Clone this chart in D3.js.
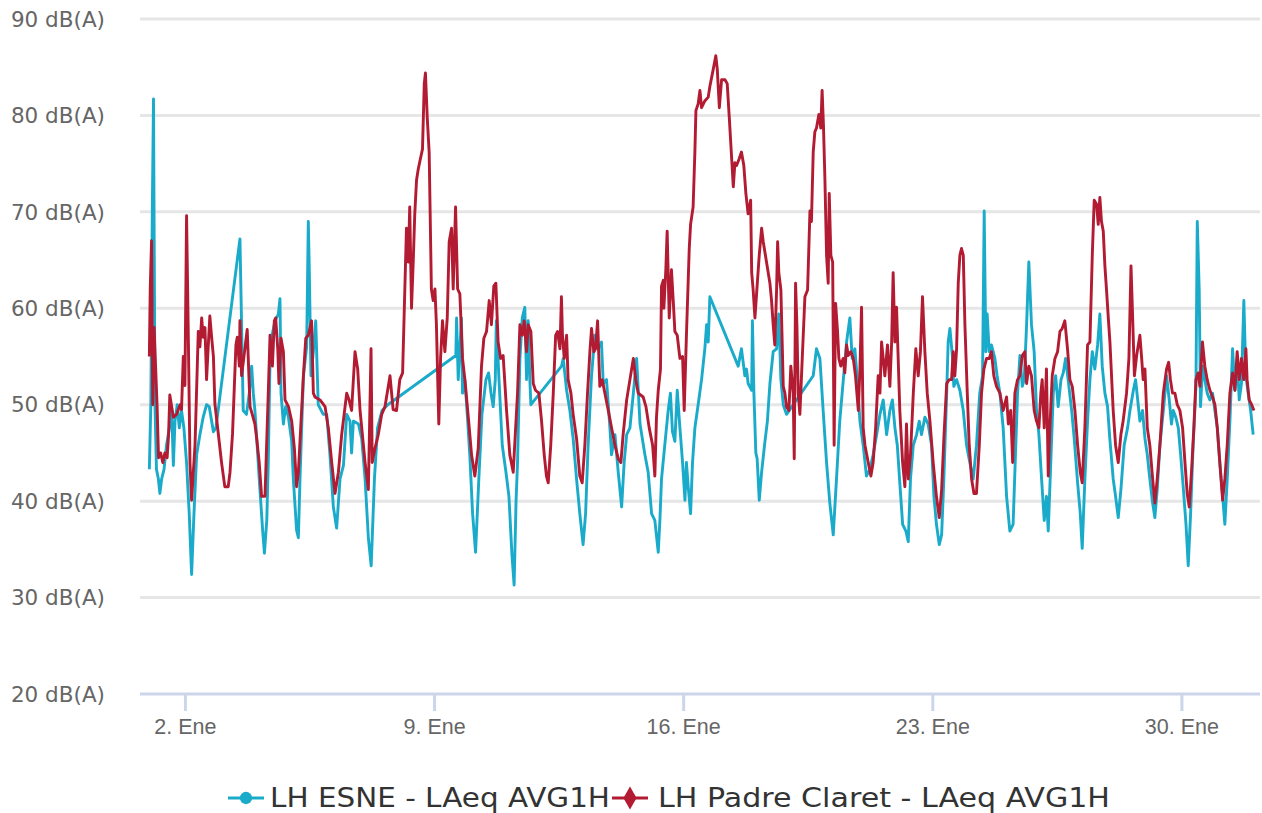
<!DOCTYPE html>
<html>
<head>
<meta charset="utf-8">
<style>
  body { margin: 0; background: #fff; }
  svg { display: block; font-family: "DejaVu Sans", Verdana, sans-serif; }
  .grid line { stroke: #e6e6e6; stroke-width: 3px; }
  .ylab { fill: #666; font-size: 21.5px; }
  .xlab { fill: #666; font-size: 21.5px; }
  .legend text { fill: #333; font-size: 26px; }
</style>
</head>
<body>
<svg width="1262" height="813"></svg>
<script src="https://cdn.jsdelivr.net/npm/d3@7"></script>
<script>

// hours since 1 Jan 00:00, level in dB(A)
var esne = [
  [0,43.3],[1,50],[2,70],[2.8,81.7],[3.8,50],[4.8,43.3],[6.1,42.3],[7.1,40.8],[8.3,42.3],[9.9,43.3],[11.6,45.8],[13.5,47.6],[15,49.8],[16.2,43.7],[17.3,48.3],[18.8,50],[20.2,47.6],[21.7,49.4],[23.3,47.6],[25.1,44],[26.9,38.7],[28.5,32.4],[30.1,38.7],[31.9,44.8],[34.1,46.9],[36.3,48.7],[38.6,50],[40.4,49.8],[42,48.3],[43.2,47.2],[44.9,47.6],
  [61.1,67.2],[62.2,58.3],[63.3,49.4],[65.5,49],[67.4,51.2],[69,54],[70.1,51.2],[71.2,49.4],[72.7,45.8],[74.1,42.3],[76.4,37],[77.6,34.6],[79.2,38],[80.2,44],[81.4,54.8],[82.5,57],[84.7,58.7],[87,59.4],[88.1,61],[88.8,51.2],[90.4,48],[91.9,49.8],[93.8,48.7],[96,46.2],[97.1,42.3],[99.3,37],[100.5,36.2],[101.6,42.3],[103.9,53],[106.1,56],[107.2,69],[107.9,63.7],[109,53],[110.6,55.5],[112.2,58.7],[113.9,50],[117.3,49],[119.6,49],[121.8,44.8],[124.1,39.4],[126.3,37.2],[128.6,42.3],[130.9,43.7],[133.1,49],[135.3,48.3],[136.4,45],[137.6,48.3],[141,48],[143.2,46.5],[145.5,42.3],[147.7,36.2],[149.6,33.3],[151.8,42.3],[153.9,47.6],[156.9,49.4],[160.8,50],
  [206.7,55.1],[207.2,59],[208.3,52.6],[209.4,55.8],[210.5,59],[211.2,51.2],[212.8,52.6],[214.4,49],[216.1,44.8],[218,38.7],[220,34.7],[222.2,42.3],[224.3,49],[227,52.6],[228.8,53.3],[230.4,51.2],[231.9,49.8],[233.3,52.6],[234,58.7],[235.8,52.6],[238,45.8],[240.5,43],[242.5,40.5],[244.5,34.5],[246,31.3],[247.3,40],[248.3,44],[249.9,54.8],[251.5,59],[253.2,60.1],[254.4,52.6],[255.5,58.7],[256.6,52.6],[257.3,50],
  [278,54],[279.1,54.8],[281.4,51.5],[283.6,49.4],[285.8,46.5],[288.1,42.3],[290.3,38.7],[292.5,35.5],[294.2,38.7],[295.9,45.8],[298.2,53],[300.4,57.2],[302.7,55.8],[304.9,56.5],[306.1,52.2],[308.3,52.6],[310.6,47.6],[311.7,44.8],[314,46.9],[316.2,43],[318.5,39.4],[320.2,44],[321.9,46.9],[324.1,47.6],[326.4,51.2],[328.6,54.8],[330.9,48],[334.2,44.8],[336.4,43],[338.7,38.7],[340.9,38],[343.2,34.7],[344.3,38],[345.4,42.3],[347.6,45.8],[349.9,49.4],[351.4,51.2],[352.8,47.2],[354.4,46.2],[356,51.5],[357.8,47.6],[359.6,44],[361.2,40.1],[362.2,44],[363.4,41.5],[365,38.7],[366.3,44],[367.9,47.6],[370.1,50],[372.4,52.6],[374.6,55.8],[375.8,58.3],[376.9,56.5],[378,61.2],
  [397.1,54],[399.3,55.8],[401.6,53],[402.7,53.7],[403.8,52.2],[406.2,51.5],[406.7,58.7],[407.7,51.2],[409,45],[409.9,44.4],[411.3,40.1],[412.9,43],[415,46],[416.8,48.3],[418.5,52.2],[420.7,55.5],[423,55.8],[424.5,59.4],[425.9,52.6],[427.5,50],[429.7,49],
  [447.7,53],[449.9,55.8],[452.2,54.8],[454.4,49.4],[456.7,44],[458.9,39.8],[461.2,36.5],[463.4,42.3],[465.6,48.3],[468,52.6],[470.2,56.5],[472.4,59],[474,54.8],[475.8,55.8],[477.6,52.2],[479.2,48.3],[481.4,45.8],[483.6,42.6],[485.9,43.3],[488.1,44.8],[490.5,46.9],[492.7,49],[494.9,50.5],[497.2,46.9],[499.4,49.4],[501.1,50.5],[502.8,47.6],[504.4,45.8],[506.1,41.9],[508,37.6],[510.2,36.9],[511.8,35.8],[513.3,42.3],[515.2,45.8],[517.4,46.9],[519.2,48.3],[520.7,46.9],[523,48.7],[525.2,48],[527.5,45.8],[529.1,40.5],[530.8,37.6],[532.7,35.5],[534.3,36.5],[535.8,42.3],[537.7,51.2],[538.7,56.5],[539.9,57.9],[541.7,54.8],[542.5,51.9],[544.4,52.6],[546.6,51.5],[548.9,49.4],[551.1,45.8],[553.3,44],[555.6,42.3],[557.8,45.8],[560,51.2],[561.9,53],[563,70.1],[564.1,55.5],[565,59.4],[566.4,55.5],[567.9,56.2],[570.2,54.8],[571.7,53],[573.6,51.2],[575.8,47.6],[578.1,40.5],[580.3,36.9],[582.5,37.6],
  [585.5,51.2],[587.1,55.1],[588.7,51.9],[590,52.6],[591.6,58.3],[593.1,64.8],[594.9,58.3],[596.7,55.5],[598.3,49.4],[599.9,46.9],[601.7,42.3],[603.5,38],[605,40.5],[606.2,36.9],[607.9,44],[609.6,51.2],[611.2,53],[612.9,49.8],[614.8,52.6],[616.3,53.3],[617.9,54.8],[619.6,52.6],[622,49.4],[623.7,46.5],[626,41.9],[627.8,38.7],[629.1,35.1],[630.9,42.3],[632.7,48.3],[634.3,52.6],[635.9,55.5],[637.6,53.7],[639.5,56.2],[641,59.4],[642.6,54],[644.4,51.2],[646.2,49.8],[647.7,46.5],[650,42.3],[651.6,40.5],[653.4,38.3],[655.2,41.2],[657.4,45.8],[659.7,47.6],[661.3,49.4],[663.6,51.5],[665.1,52.6],
  [668,48.3],[669.8,49.4],[671.4,46.5],[673,44.8],[674.7,42.3],[676.6,39.8],[678.1,38.3],[679.7,41.2],[681.5,45.8],[683.8,49.4],[686,53],[687.8,50.5],[689.3,48],[690.5,49.4],[692.2,48.7],[693.9,47.6],[695.5,44.8],[697.2,41.5],[699.1,37.6],[700.6,33.3],[702.2,38.7],[703.9,45.8],[705.8,51.9],[706.7,69],[708,61.9],[708.9,49.8],[710.3,54],[711.8,52.6],[713.4,51.2],[715.2,50.5],[717,51.2],[718.6,49.4],[720.2,47.6],[721.9,44],[723.8,40.5],[725.3,37.6],[726.9,42.3],[728.7,48.3],[730.5,55.8],[732.1,51.5],[733.6,54.8],[735,50.5],[736.5,52.2],[738.1,60.8],[739.5,53],[741,51.2],[742.7,49.4],[744.4,46.9]
];

var claret = [
  [0,55],[0.6,62],[1.5,67],[2.3,50],[3.2,58],[4.2,54],[5.2,50],[6.2,44.5],[7.6,45],[9.1,44],[10.5,45],[12,44.5],[13,47],[13.8,51],[16.2,48.7],[18.4,49],[20.7,50],[21.7,49.5],[22.9,55],[24,52],[25.1,69.6],[26.2,58],[26.9,50],[27.4,44],[28.5,40.1],[30.8,45.8],[33,57.6],[34.1,56],[35.3,59],[36.3,57],[37.5,58],[38.6,52.6],[39.7,56],[40.8,59.2],[42,57],[43.2,55],[44.2,50.1],[46.5,47],[48.7,44],[50.9,41.5],[53.2,41.5],[54.4,43],[56.1,47],[58.4,56.2],[59.3,57],[60.7,54],[61.1,58.7],[62.2,53],[63.8,55],[66,57.8],[67.9,49.8],[69.4,49],[71.2,48],[72.4,46.5],[74.1,44],[75.7,40.5],[78,40.5],
  [80.2,51.2],[81.4,57.2],[83,54],[84.3,58.7],[85.2,59],[86.6,55.8],[87.4,52.2],[88.8,56.9],[90.4,55.5],[91.5,50.5],[93.8,49.8],[96,48.3],[97.8,45.5],[99.3,41.5],[100.5,43],[101.6,46.2],[103.9,53],[105.5,56.9],[107.2,57.2],[109.4,58.7],[110.6,51.2],[111.7,50.8],[115.1,50.5],[118.5,49.8],[120.7,47.6],[123,44],[125.2,40.8],[127.5,43],[129.7,46.9],[133.1,51.2],[134.7,50.5],[136.4,49.4],[138.7,55.5],[140.5,53.7],[142.1,49.4],[145.5,44],[147.7,41.2],[149.5,55.8],[150.3,44],[152.2,45.5],[154.4,46.9],[156.7,49],[158.9,49.8],[162.3,53],
  [164.4,49.5],[166.7,49.4],[168.9,52.6],[170.8,53.3],[172.3,62],[173.4,68.3],[174.6,64.8],[175.6,70.5],[176.8,60],[178,65],[179,69.8],[180.2,73.3],[181.3,74.4],[182.8,75.5],[184.2,76.5],[185.4,83.3],[186.2,84.4],[187.4,79.8],[188.7,76.2],[190.2,62],[191.4,60.8],[192.6,62],[193.6,58.3],[195.2,48],[196.4,54.8],[197.7,58.7],[199.3,55.5],[200.9,59],[202.2,66.9],[203.8,68.3],[204.9,62],[206.5,70.5],[207.9,62],[209.4,61.5],[211.2,54.8],[212.8,52.6],[215.1,48.7],[217.3,44.8],[219.5,42.6],[221.8,45.5],[224,54],[225.6,56.9],[227.4,57.6],[229.2,60.8],[230.7,58.3],[232.3,62.3],[233.7,62.6],[235.2,56.5],[236.9,54.8],[238.6,55.1],[240.9,49.4],[243.1,44.8],[245.4,43],
  [248.3,51.2],[249.9,58.3],[251.5,57.2],[252.8,58.7],[254.4,55.5],[255.5,58.3],[257.3,57.6],[258.9,52.2],[260.4,51.5],[262.7,51.2],[264.5,48.3],[266.3,44.8],[267.8,42.6],[269,41.9],[270.7,45.8],[272.4,51.2],[274,57.2],[275.3,57.6],[276.9,55.8],[277.9,61.2],[278.6,57.2],[279.8,54.8],[281.4,57.2],[282.4,52.6],[284.3,51.2],[285.8,49],[288.1,46.5],[290.3,42.6],[291.9,41.9],[293.7,45.8],[295.5,51.2],[297.1,55.5],[298.2,57.9],[299.8,55.5],[300.9,55.8],[302.3,58.7],[303.8,51.9],[305.4,52.6],[307.2,51.2],[309.5,49.4],[311.7,47.6],[314,45.8],[316.2,44.4],[318,44],[319.5,46.9],[321.9,50.5],[324.1,52.6],[326.4,54.8],[328,52.6],[329.7,51.2],
  [333,50.8],[334.9,49.8],[337.1,47.6],[339.4,45.8],[340.9,42.6],[342,48.7],[343.2,51.5],[344.7,53.7],[345.4,62.3],[346.6,62.9],[347,60],[348.3,64],[349.2,68],[350.6,59],[352.1,64],[353.3,60.8],[354.4,57.6],[356,57.2],[357.8,54.8],[359.6,55],[360.7,49.4],[362.2,57.2],[364.1,66.2],[365,68.7],[366.7,70.5],[367.9,76.2],[368.6,80.5],[370.1,81.2],[371.3,82.6],[372.4,80.8],[374.6,81.5],[376.9,81.9],[378,83],[380.3,84.8],[382,86.2],[383,84.8],[384.4,80.8],[385.9,83.7],[388.2,83.7],[389.7,83.3],[391.1,79.8],[392.6,75.8],[393.8,72.6],[394.9,75.1],[396,74.8],[397.8,75.5],[399.3,76.2],[400.9,74.8],[402.3,71.9],[403.8,69.8],[405.5,71.2],[406.2,63.7],[407.2,61.9],[408.4,59],[410,62.6],[411.3,65.5],[412.9,68.3],[414,66.9],
  [418.5,62.6],[419.6,60.8],[420.7,58.3],[421.8,56.2],[423,61.9],[423.7,66.9],[424.5,63.7],[425.9,61.9],[427.5,51.9],[428.6,51.2],[429.7,49.8],[431.3,49.4],[432.6,54],[434.2,51.2],[434.9,44.4],[435.8,62.6],[436.7,58.3],[437.6,51.2],[438.7,49],[440.3,54.8],[442.1,61.2],[443.9,61.9],[445.5,70.1],[446.5,69],[447.7,76.2],[448.8,78.3],[449.9,78.7],[451.5,80.1],[452.8,78.7],[453.7,82.6],[454.6,79],[455.6,73.3],[456.7,65.5],[457.8,62.6],[458.5,71.9],[459.6,65.5],[460.8,64.8],[461.8,45.8],[462.8,60.5],[464.1,57.6],[465,54.8],[466.3,54],[467.9,54.8],[469,53.3],[470.2,56.2],[471.3,55.1],[473.1,55.5],[474.7,54.8],[476.2,53],[478.1,49.4],[479.2,53.7],[480.3,60.1],[481.4,47.6],[482.6,45.8],[484.8,44],[486.6,42.6],[488.1,44],[489.8,47.6],[491.5,53],[492.7,51.2],[493.8,56.5],[494.9,54.8],[496,53],[497.8,56.2],
  [499.4,51.9],[500.6,56.5],[501.6,63.7],[502.8,56.5],[503.9,60.1],[505,54.8],[506.1,49.4],[508,44],[509.5,41.5],[510.6,48],[511.8,42.3],[513.3,44.8],[515.2,51.2],[516.9,55.8],[518.5,53],[520,55.5],[521.4,61.2],[523,55.5],[524.6,51.2],[526.4,48.3],[528.6,44],[530.8,40.5],[532.7,38.3],[534.3,41.2],[535.8,46.5],[537.7,52.2],[539.4,52.6],[541,52.6],[542.1,55.5],[543.2,53],[544.4,55.8],[545.5,62.6],[546.6,65.5],[547.7,66.2],[548.9,65.5],[550,58.3],[551.6,51.2],[552.9,45.8],[554.5,42.3],[556.1,40.8],[557.8,40.8],[559.7,45.8],[561.2,51.2],[562.8,53.7],[564.6,54.8],[566.4,54.8],[567.9,55.5],[569.5,53],[571.3,51.9],[573.6,51.2],[575.8,49.4],[578.1,50.8],[579.3,48],[580.9,49.4],[582.2,44],[583.7,51.2],
  [585.5,52.6],[587.1,53],[588.7,55.1],[590.4,55.5],[591.6,52.2],[593.1,54],[594.9,53],[596.7,49.4],[598.3,48.3],[599.9,47.6],[601.2,51.2],[602.1,52.6],[603.5,47.6],[605,53.7],[606.2,42.6],[607.3,47.6],[608.9,53],[610.7,54.8],[612.5,55.5],[614.1,57.6],[615.6,57.9],[617.4,58.7],[619.2,55.8],[620.8,52.6],[622.4,51.9],[624.2,49.4],[626,45.8],[627.8,43],[629.1,41.9],[630.9,47.6],[632.7,56.2],[634.3,56.5],[635.9,65.5],[637.2,71.2],[638.8,70.8],[639.9,68.7],[641,71.5],[642.1,69],[643.3,68],[644.4,64.4],[645.5,61.9],[646.7,59],[647.8,56.5],[650,49.4],[651.6,45.8],[653.4,44],[655.2,46.9],[656.7,48.3],[659,51.2],[660.6,54.8],[662,64.4],[662.9,60.1],[664.3,53],[665.8,55.1],
  [668,57.2],[669.2,54.8],[670.2,52.6],[671.4,53.7],[673,47.6],[674.7,45.8],[676.6,42.3],[678.1,39.8],[679.7,42.3],[681.5,45.8],[683.8,51.2],[686,53.7],[687.4,54.4],[688.6,52.6],[690,51.2],[691.6,51.2],[693.2,50],[695,49.4],[696.8,47.6],[698.4,44],[699.9,40.8],[701.3,39.4],[702.8,43],[704.4,47.6],[705.8,52.6],[707.3,53.3],[708.5,51.9],[710.2,56.5],[711.8,54],[713.4,52.6],[715.2,51.5],[717,50.8],[718.6,50],[720.2,47.6],[721.9,44],[723.8,40.1],[725.3,42.3],[726.9,45.8],[728.7,51.2],[730.5,53.3],[732.1,51.5],[733.6,55.5],[735,52.6],[736.5,54.8],[738.1,52.6],[739.5,55.8],[740.3,52.6],[741.7,50.5],[743.4,50],[744.9,49.4]
];

var seriesNames = ["LH ESNE - LAeq AVG1H", "LH Padre Claret - LAeq AVG1H"];
var seriesColors = ["#1aabca", "#b21b31"];
var yTicks = [20, 30, 40, 50, 60, 70, 80, 90];
var tickDays = [2, 9, 16, 23, 30];
var monthAbbr = "Ene";

var svg = d3.select("svg");

var x = d3.scaleLinear()
    .domain([-6.3, 749])
    .range([140, 1260]);

var y = d3.scaleLinear()
    .domain([20, 90])
    .range([694, 19]);

// grid lines
svg.append("g")
    .attr("class", "grid")
  .selectAll("line")
  .data(yTicks.slice(1))
  .enter().append("line")
    .attr("x1", 140)
    .attr("x2", 1260)
    .attr("y1", function(d) { return y(d); })
    .attr("y2", function(d) { return y(d); });

// y labels
svg.append("g")
  .selectAll("text")
  .data(yTicks)
  .enter().append("text")
    .attr("class", "ylab")
    .attr("x", 105)
    .attr("y", function(d) { return y(d); })
    .attr("dy", "0.36em")
    .attr("text-anchor", "end")
    .text(function(d) { return d + " dB(A)"; });

// x axis
var xAxis = d3.axisBottom(x)
    .tickValues(tickDays.map(function(d) { return (d - 1) * 24; }))
    .tickSize(17)
    .tickPadding(8)
    .tickFormat(function(h) { return (h / 24 + 1) + ". " + monthAbbr; });

var gx = svg.append("g")
    .attr("transform", "translate(0," + y(20) + ")")
    .call(xAxis);
gx.select(".domain").remove();
gx.selectAll(".tick line").attr("stroke", "#ccd6eb").attr("stroke-width", 3);
gx.selectAll(".tick text")
    .attr("class", "xlab")
    .attr("font-family", null)
    .attr("font-size", null)
    .attr("fill", null);
gx.append("line")
    .attr("x1", 140).attr("x2", 1260)
    .attr("y1", 0).attr("y2", 0)
    .attr("stroke", "#ccd6eb")
    .attr("stroke-width", 3);

// series
var line = d3.line()
    .x(function(d) { return x(d[0]); })
    .y(function(d) { return y(d[1]); });

[esne, claret].forEach(function(data, i) {
  svg.append("path")
      .datum(data)
      .attr("fill", "none")
      .attr("stroke", seriesColors[i])
      .attr("stroke-width", 2.9)
      .attr("stroke-linejoin", "round")
      .attr("d", line);
});

// legend
var legend = svg.append("g").attr("class", "legend");
var legendItems = [
  {sx: 228, tx: 270, len: 340, shape: d3.symbolCircle},
  {sx: 612, tx: 658, len: 452, shape: d3.symbolDiamond}
];
legendItems.forEach(function(it, i) {
  legend.append("line")
      .attr("x1", it.sx).attr("x2", it.sx + 36)
      .attr("y1", 798).attr("y2", 798)
      .attr("stroke", seriesColors[i])
      .attr("stroke-width", 3);
  legend.append("path")
      .attr("d", d3.symbol().type(it.shape).size(i === 0 ? 120 : 150)())
      .attr("transform", "translate(" + (it.sx + 18) + ",798)")
      .attr("fill", seriesColors[i]);
  legend.append("text")
      .attr("x", it.tx)
      .attr("y", 798)
      .attr("dy", "0.36em")
      .attr("textLength", it.len)
      .attr("lengthAdjust", "spacingAndGlyphs")
      .text(seriesNames[i]);
});

</script>
</body>
</html>
